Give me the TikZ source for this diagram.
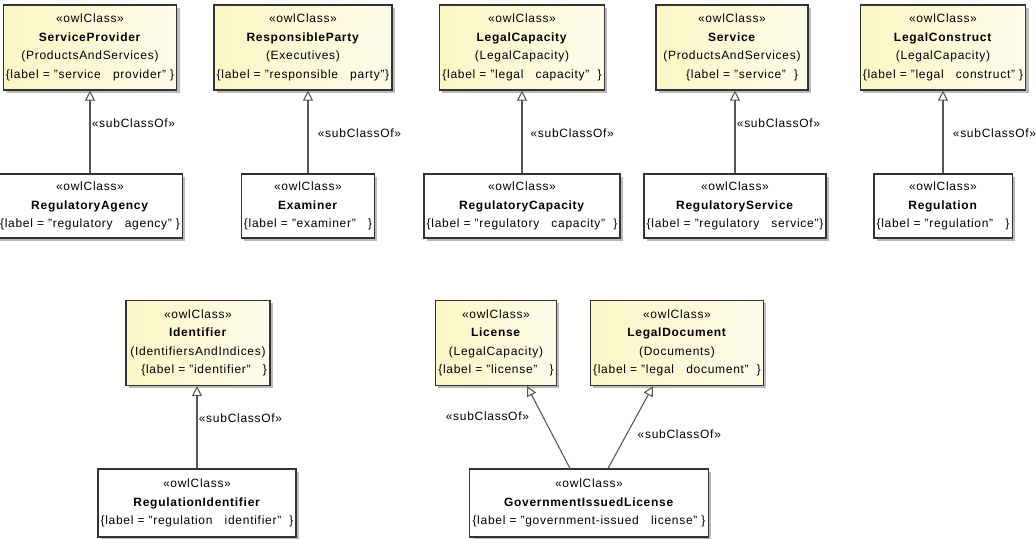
\documentclass[tikz,border=0pt]{standalone}
\usepackage{fontspec}
\setmainfont{Liberation Sans}[LetterSpace=6]
\usepackage{tikz}
\usetikzlibrary{arrows.meta,positioning,shadows,calc}
\definecolor{ClassYellow}{HTML}{FBF6C4}
\definecolor{ClassLine}{HTML}{333333}
\definecolor{LinkGray}{HTML}{555555}
\tikzset{
  subarrow/.style={-{Triangle[open,length=7.5pt,width=7.5pt]}, draw=LinkGray, line width=0.8pt},
  stereo/.style={font=\fontsize{9}{11}\selectfont, inner sep=1pt}
}

\begin{document}
\begin{tikzpicture}[
  x=0.75pt, y=-0.75pt,
  font=\fontsize{9}{13.9}\selectfont,
  owlbox/.style={draw=ClassLine, line width=0.9pt, align=center, inner sep=2pt,
    drop shadow={shadow xshift=2pt, shadow yshift=-2pt, fill=black!45, opacity=0.6}},
  superbox/.style={owlbox, left color=ClassYellow, right color=ClassYellow!35, minimum height=63.75pt},
  subbox/.style={owlbox, fill=white, minimum height=48pt}
]
\useasboundingbox (0,0) rectangle (1036,539);

\node[superbox, minimum width=120pt] at (90,47.5) (provider) {«owlClass»\\\textbf{ServiceProvider}\\(ProductsAndServices)\\\{label = "service\ \ \ provider" \}};
\node[superbox, minimum width=127.5pt] at (303,47.5) (party) {«owlClass»\\\textbf{ResponsibleParty}\\(Executives)\\\{label = "responsible\ \ \ party"\}};
\node[superbox, minimum width=114pt] at (522,47.5) (capacity) {«owlClass»\\\textbf{LegalCapacity}\\(LegalCapacity)\\\{label = "legal\ \ \ capacity"\ \ \}};
\node[superbox, minimum width=114pt] at (732,47.5) (service) {«owlClass»\\\textbf{Service}\\(ProductsAndServices)\\\ \ \ \ \ \{label = "service"\ \ \}};
\node[superbox, minimum width=115.5pt] at (943,47.5) (construct) {«owlClass»\\\textbf{LegalConstruct}\\(LegalCapacity)\\\{label = "legal\ \ \ construct" \}};

\node[subbox, minimum width=128.25pt] at (90,206) (agency) {«owlClass»\\\textbf{RegulatoryAgency}\\\{label = "regulatory\ \ \ agency" \}};
\node[subbox, minimum width=93.75pt] at (308,206) (examiner) {«owlClass»\\\textbf{Examiner}\\\{label = "examiner"\ \ \ \}};
\node[subbox, minimum width=133.5pt] at (522,206) (regcapacity) {«owlClass»\\\textbf{RegulatoryCapacity}\\\{label = "regulatory\ \ \ capacity"\ \ \}};
\node[subbox, minimum width=126pt] at (735,206) (regservice) {«owlClass»\\\textbf{RegulatoryService}\\\{label = "regulatory\ \ \ service"\}};
\node[subbox, minimum width=91.5pt] at (943,206) (regulation) {«owlClass»\\\textbf{Regulation}\\\{label = "regulation"\ \ \ \}};

\node[superbox, minimum width=108pt] at (198,343) (identifier) {«owlClass»\\\textbf{Identifier}\\(IdentifiersAndIndices)\\\ \ \ \{label = "identifier"\ \ \ \}};
\node[superbox, minimum width=88.5pt] at (496,343) (license) {«owlClass»\\\textbf{License}\\(LegalCapacity)\\\{label = "license"\ \ \ \}};
\node[superbox, minimum width=119.25pt] at (677,343) (legaldoc) {«owlClass»\\\textbf{LegalDocument}\\(Documents)\\\{label = "legal\ \ \ document"\ \ \}};

\node[subbox, minimum width=138pt, minimum height=51pt] at (197,503) (regidentifier) {«owlClass»\\\textbf{RegulationIdentifier}\\\{label = "regulation\ \ \ identifier"\ \ \}};
\node[subbox, minimum width=163.5pt, minimum height=51pt] at (589,503) (govlicense) {«owlClass»\\\textbf{GovernmentIssuedLicense}\\\{label = "government-issued\ \ \ license" \}};

\draw[subarrow] (agency.north) -- node[stereo, right, pos=0.61]{«subClassOf»} (agency.north |- provider.south);
\draw[subarrow] (examiner.north) -- node[stereo, right=6pt, pos=0.49]{«subClassOf»} (examiner.north |- party.south);
\draw[subarrow] (regcapacity.north) -- node[stereo, right=5pt, pos=0.49]{«subClassOf»} (regcapacity.north |- capacity.south);
\draw[subarrow] (regservice.north) -- node[stereo, right, pos=0.61]{«subClassOf»} (regservice.north |- service.south);
\draw[subarrow] (regulation.north) -- node[stereo, right=6pt, pos=0.49]{«subClassOf»} (regulation.north |- construct.south);
\draw[subarrow] (regidentifier.north) -- node[stereo, right, pos=0.61]{«subClassOf»} (regidentifier.north |- identifier.south);
\draw[subarrow] ($(govlicense.north)+(-19,0)$) -- node[stereo, left=9pt, pos=0.63]{«subClassOf»} ($(license.south)+(31,0)$);
\draw[subarrow] ($(govlicense.north)+(19,0)$) -- node[stereo, right=7pt, pos=0.41]{«subClassOf»} ($(legaldoc.south)+(-24,0)$);
\end{tikzpicture}
\end{document}
